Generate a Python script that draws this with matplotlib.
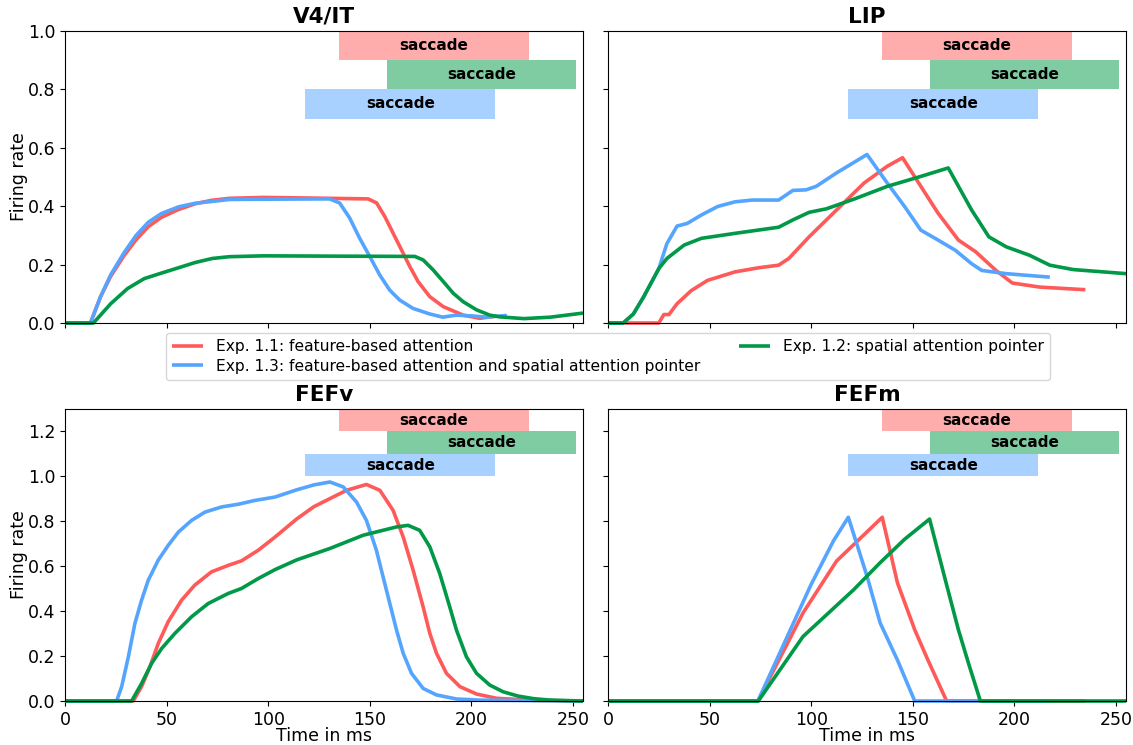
import matplotlib
matplotlib.use("Agg")
import matplotlib.pyplot as plt

red = '#ff5a5a'
green = '#019947'
blue = '#55a5ff'

# saccade onset (ms) and duration for each experiment
sacc_start = {'red': 134.8, 'green': 158.3, 'blue': 118.3}
sacc_len = 93.5

# ---- V4/IT ----
v4_t_red = [0, 12.5, 17.5, 22.5, 29, 35, 41, 47.5, 56, 64, 72, 81, 97.5, 120, 149.3, 153.4, 157.4, 161.5, 165.6, 169.7, 173.8, 179.6, 186.2, 196, 204.2, 212.4]
v4_red = [0, 0, 0.09, 0.16, 0.23, 0.285, 0.33, 0.362, 0.389, 0.408, 0.42, 0.427, 0.43, 0.428, 0.425, 0.411, 0.365, 0.308, 0.251, 0.194, 0.142, 0.09, 0.056, 0.027, 0.016, 0.024]
v4_t_blue = [0, 12.5, 17.5, 22.5, 29, 35, 41, 47.5, 56, 64, 81, 100, 130.3, 135.2, 140.1, 145, 150, 154.9, 159.8, 164.7, 171.3, 179.5, 186, 192.6, 200.8, 207.4, 217.5]
v4_blue = [0, 0, 0.09, 0.165, 0.24, 0.30, 0.345, 0.375, 0.398, 0.41, 0.423, 0.424, 0.425, 0.411, 0.36, 0.291, 0.228, 0.165, 0.113, 0.079, 0.05, 0.031, 0.02, 0.027, 0.024, 0.02, 0.026]
v4_t_green = [0, 14, 22.5, 30.8, 39, 47.5, 55.8, 64, 72.5, 80.8, 97.5, 131, 172.2, 176.3, 181.2, 186.2, 191.1, 196, 202.6, 209.1, 214, 226, 239, 255]
v4_green = [0, 0, 0.066, 0.118, 0.152, 0.171, 0.189, 0.207, 0.221, 0.227, 0.23, 0.229, 0.228, 0.216, 0.182, 0.142, 0.102, 0.073, 0.045, 0.027, 0.021, 0.015, 0.02, 0.034]

# ---- LIP ----
lip_t_red = [0, 25, 27.5, 30, 34, 41, 49, 62.5, 74, 84, 89, 99, 112.5, 126, 137.5, 145, 154, 162.5, 172.5, 181, 191, 199, 212.5, 235]
lip_red = [0, 0, 0.029, 0.029, 0.066, 0.111, 0.146, 0.175, 0.189, 0.198, 0.221, 0.295, 0.387, 0.479, 0.537, 0.566, 0.468, 0.376, 0.284, 0.244, 0.18, 0.137, 0.123, 0.114]
lip_t_blue = [0, 7.5, 12.5, 17.5, 25, 29, 34, 39, 46, 54, 62.5, 71, 84, 91, 97.5, 102.5, 112.5, 127.5, 137.5, 146, 154, 162.5, 171, 179, 184, 196, 217.5]
lip_blue = [0, 0, 0.031, 0.089, 0.186, 0.272, 0.332, 0.341, 0.37, 0.399, 0.415, 0.421, 0.421, 0.454, 0.456, 0.468, 0.514, 0.577, 0.479, 0.399, 0.318, 0.284, 0.249, 0.203, 0.18, 0.169, 0.157]
lip_t_green = [0, 7.5, 12.5, 17.5, 25, 29, 37.5, 46, 62.5, 84, 91, 99, 107.5, 121, 137.5, 154, 167.5, 179, 187.5, 196, 207.5, 217.5, 229, 255]
lip_green = [0, 0, 0.031, 0.089, 0.186, 0.221, 0.267, 0.29, 0.307, 0.328, 0.353, 0.379, 0.391, 0.424, 0.468, 0.502, 0.531, 0.387, 0.295, 0.261, 0.232, 0.198, 0.183, 0.169]

# ---- FEFv ----
fefv_t_red = [0, 33.6, 37.7, 41.8, 45.9, 50.8, 57.4, 63.9, 72.1, 80.4, 86.9, 95.1, 103.4, 114, 122.5, 130.4, 138.6, 148.4, 155, 161.5, 166.5, 171.4, 176.3, 179.6, 182.9, 187.8, 194.4, 202.6, 212.5, 231, 255]
fefv_red = [0, 0, 0.064, 0.152, 0.256, 0.353, 0.449, 0.516, 0.575, 0.604, 0.624, 0.671, 0.73, 0.81, 0.865, 0.901, 0.938, 0.964, 0.938, 0.849, 0.73, 0.582, 0.419, 0.301, 0.212, 0.123, 0.064, 0.031, 0.012, 0.003, 0]
fefv_t_blue = [0, 25.4, 27.9, 31.2, 34.4, 37.7, 41, 45.9, 50.8, 55.8, 62.3, 68.9, 77.1, 85.3, 93.5, 103.4, 114, 122.5, 130.4, 137, 143.5, 148.4, 153.3, 156.6, 159.9, 163.2, 166.5, 170.6, 176.3, 182.9, 192.7, 204.2, 255]
fefv_blue = [0, 0, 0.064, 0.197, 0.345, 0.449, 0.538, 0.627, 0.693, 0.752, 0.804, 0.841, 0.864, 0.876, 0.893, 0.908, 0.94, 0.962, 0.975, 0.953, 0.886, 0.804, 0.671, 0.552, 0.434, 0.316, 0.212, 0.123, 0.056, 0.027, 0.009, 0.004, 0]
fefv_t_green = [0, 32.8, 37.7, 42.6, 47.6, 54.1, 62.3, 70.5, 80.4, 86.9, 95.1, 103.4, 114, 130.4, 146.8, 163.2, 168.9, 174.6, 179.6, 184.5, 189.4, 192.7, 197.6, 202.6, 209.1, 215.7, 223, 231, 239, 255]
fefv_green = [0, 0, 0.078, 0.167, 0.234, 0.301, 0.375, 0.434, 0.479, 0.501, 0.545, 0.585, 0.628, 0.679, 0.738, 0.775, 0.782, 0.76, 0.686, 0.567, 0.419, 0.316, 0.197, 0.123, 0.071, 0.041, 0.022, 0.01, 0.004, 0]

# ---- FEFm ----
fefm_t_red = [0, 73.8, 96, 112.5, 135, 142.5, 151, 157.5, 166.7, 235]
fefm_red = [0, 0, 0.392, 0.623, 0.818, 0.526, 0.317, 0.182, 0, 0]
fefm_t_blue = [0, 73.8, 87.5, 100, 111, 118.3, 127.5, 134, 142.5, 151, 217.5]
fefm_blue = [0, 0, 0.272, 0.519, 0.713, 0.818, 0.556, 0.347, 0.182, 0, 0]
fefm_t_green = [0, 74, 96, 121, 134, 146, 158.3, 166, 172.5, 177.5, 183.3, 255]
fefm_green = [0, 0, 0.287, 0.496, 0.616, 0.72, 0.81, 0.541, 0.317, 0.167, 0, 0]

panels = [
    ('V4/IT', (v4_t_red, v4_red), (v4_t_blue, v4_blue), (v4_t_green, v4_green)),
    ('LIP', (lip_t_red, lip_red), (lip_t_blue, lip_blue), (lip_t_green, lip_green)),
    ('FEFv', (fefv_t_red, fefv_red), (fefv_t_blue, fefv_blue), (fefv_t_green, fefv_green)),
    ('FEFm', (fefm_t_red, fefm_red), (fefm_t_blue, fefm_blue), (fefm_t_green, fefm_green)),
]

labels = {'red': 'Exp. 1.1: feature-based attention',
          'green': 'Exp. 1.2: spatial attention pointer',
          'blue': 'Exp. 1.3: feature-based attention and spatial attention pointer'}
cols = {'red': red, 'green': green, 'blue': blue}

fig = plt.figure(figsize=(11.33, 7.45), dpi=100)
w, h = 518 / 1133, 292 / 745
pos = [(65 / 1133, 1 - 323 / 745), (608 / 1133, 1 - 323 / 745),
       (65 / 1133, 1 - 701 / 745), (608 / 1133, 1 - 701 / 745)]

axes = []
handles = {}
for i, (name, r, b, g) in enumerate(panels):
    ax = fig.add_axes([pos[i][0], pos[i][1], w, h])
    axes.append(ax)
    top = 1.0 if i < 2 else 1.3
    ax.set_xlim(0, 255)
    ax.set_ylim(0, top)
    for key, (tt, vv) in zip(['red', 'blue', 'green'], [r, b, g]):
        ln, = ax.plot(tt, vv, color=cols[key], lw=2.6, label=labels[key],
                      clip_on=False, solid_capstyle='butt')
        handles[key] = ln
    # saccade bars
    for k, key in enumerate(['red', 'green', 'blue']):
        y0 = top - 0.1 * (k + 1)
        ax.barh(y0 + 0.05, sacc_len, height=0.1, left=sacc_start[key],
                color=cols[key], alpha=0.5, lw=0)
        ax.text(sacc_start[key] + sacc_len / 2, y0 + 0.05, 'saccade',
                ha='center', va='center', fontsize=11, fontweight='bold')
    ax.set_title(name, fontsize=15.5, fontweight='bold')
    ax.set_xticks([0, 50, 100, 150, 200, 250])
    if i < 2:
        ax.set_yticks([0, 0.2, 0.4, 0.6, 0.8, 1.0])
    else:
        ax.set_yticks([0, 0.2, 0.4, 0.6, 0.8, 1.0, 1.2])
    ax.tick_params(labelsize=12.5)
    if i < 2:
        ax.tick_params(labelbottom=False)
    else:
        ax.set_xlabel('Time in ms', fontsize=12.5, labelpad=-1)
    if i % 2 == 1:
        ax.tick_params(labelleft=False)
    else:
        ax.set_ylabel('Firing rate', fontsize=12.5, labelpad=0)

fig.legend([handles['red'], handles['blue'], handles['green']],
           [labels['red'], labels['blue'], labels['green']],
           loc='center', ncol=2, mode='expand', fontsize=11.2,
           bbox_to_anchor=(166 / 1133, 1 - 381 / 745, 884 / 1133, 49 / 745),
           borderaxespad=0, handlelength=2, labelspacing=0.3)

fig.savefig('out.png', dpi=100)
